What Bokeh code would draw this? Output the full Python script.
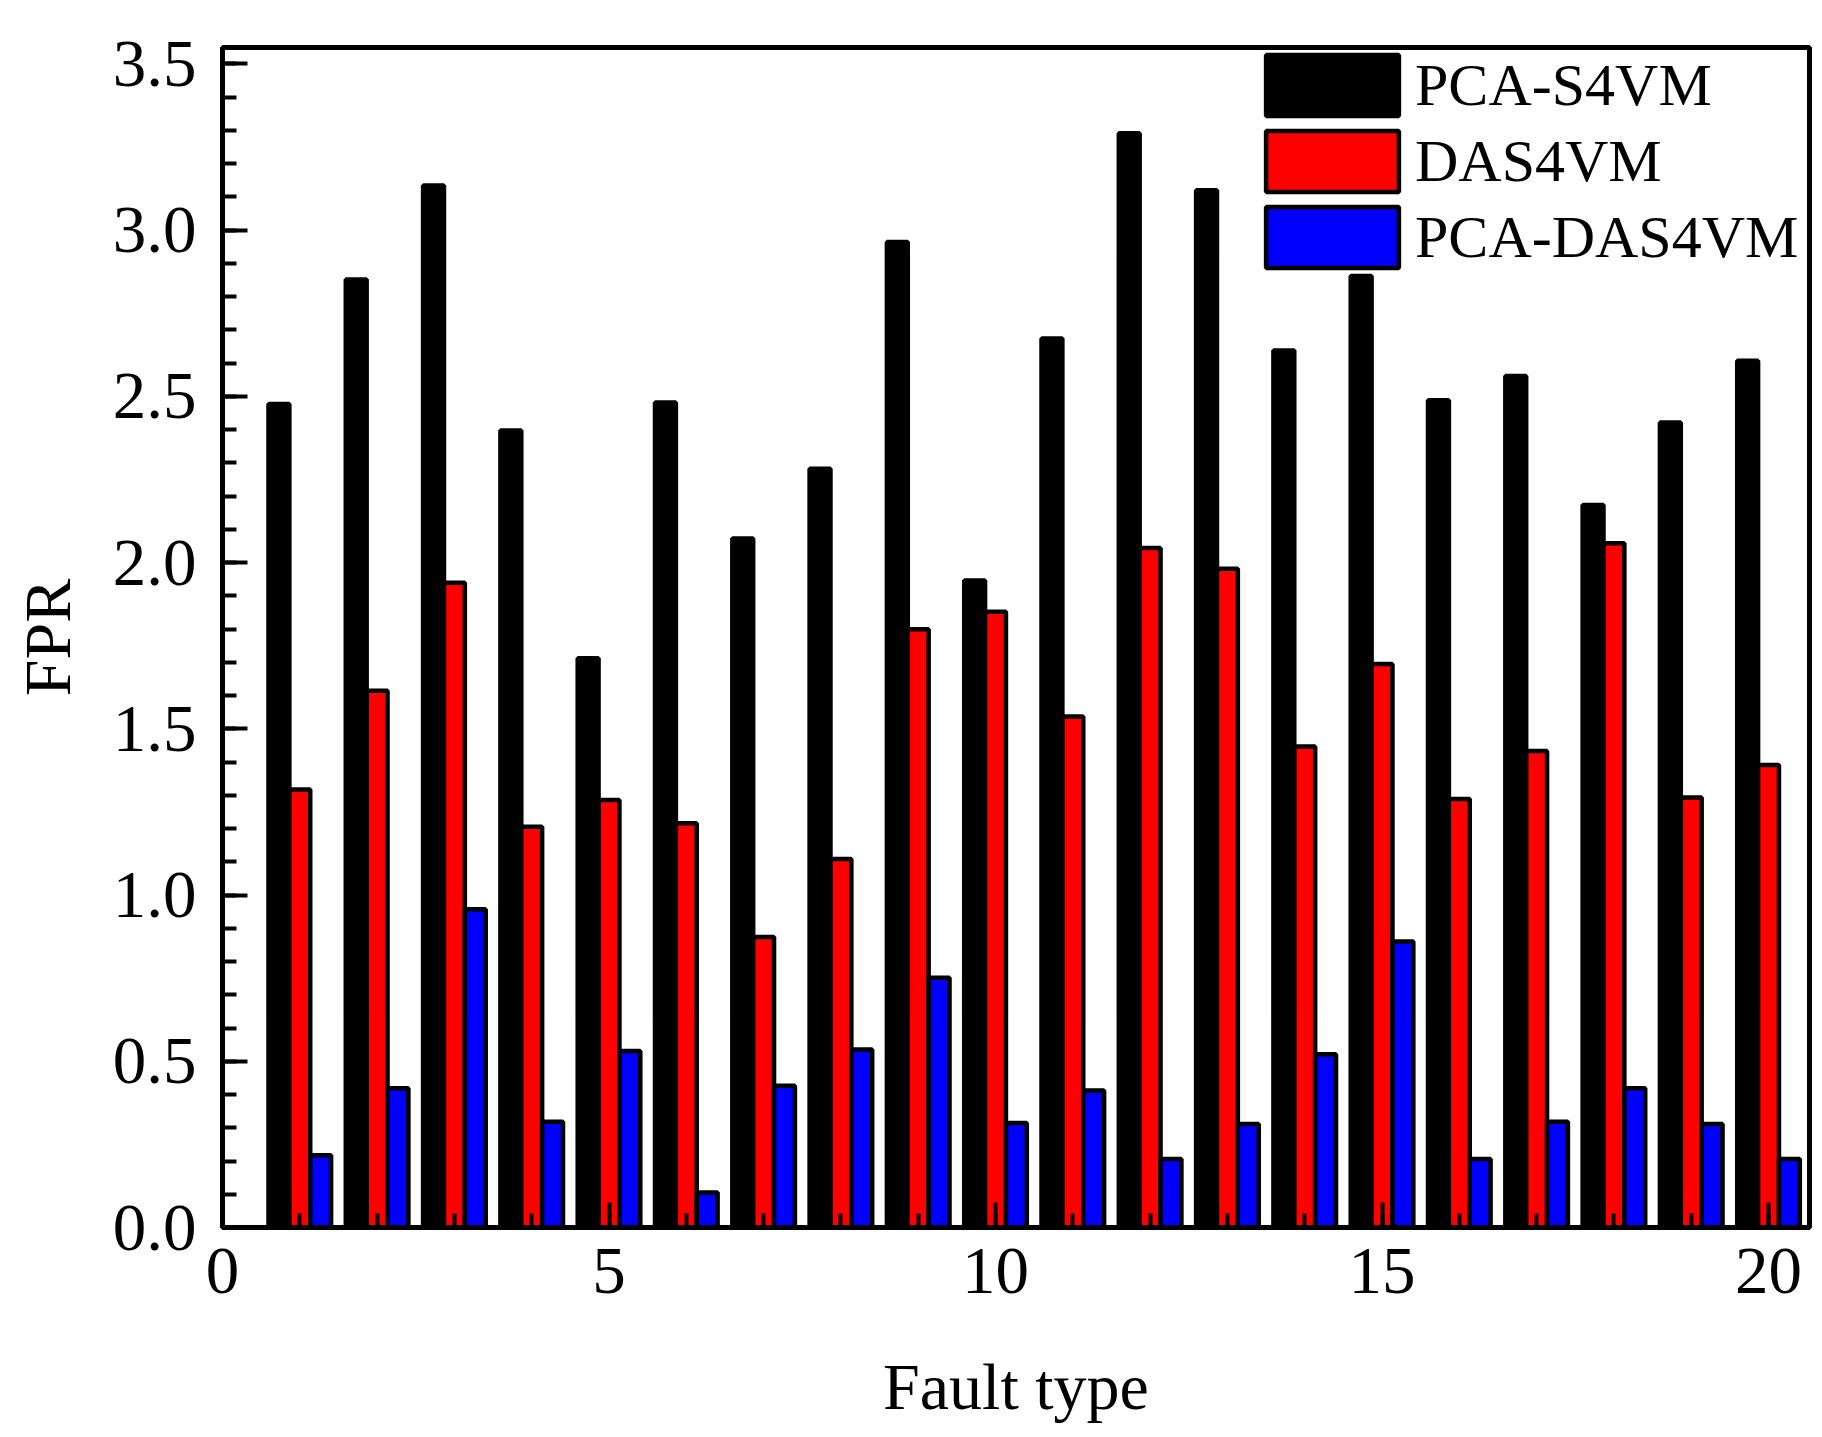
from bokeh.plotting import figure
from bokeh.models import Range1d, ColumnDataSource, Legend, LegendItem, FixedTicker, PrintfTickFormatter
from bokeh.transform import dodge
from bokeh.embed import file_html
from bokeh.resources import INLINE

fault_type = list(range(1, 21))
pca_s4vm = [2.477, 2.851, 3.134, 2.397, 1.712, 2.481, 2.072, 2.282, 2.964, 1.946,
            2.674, 3.291, 3.120, 2.638, 2.862, 2.488, 2.561, 2.173, 2.421, 2.607]
das4vm = [1.317, 1.614, 1.939, 1.205, 1.286, 1.216, 0.874, 1.108, 1.799, 1.852,
          1.537, 2.044, 1.981, 1.447, 1.695, 1.289, 1.433, 2.058, 1.293, 1.391]
pca_das4vm = [0.217, 0.419, 0.957, 0.318, 0.531, 0.105, 0.426, 0.535, 0.751, 0.314,
              0.412, 0.206, 0.311, 0.521, 0.860, 0.206, 0.318, 0.419, 0.311, 0.206]
series_names = ["PCA-S4VM", "DAS4VM", "PCA-DAS4VM"]
series_colors = ["#000000", "#ff0000", "#0000ff"]
x_ticks = [0, 5, 10, 15, 20]
y_ticks = [0.0, 0.5, 1.0, 1.5, 2.0, 2.5, 3.0, 3.5]

FONT = "Liberation Serif"

p = figure(width=1814, height=1429, output_backend="svg", toolbar_location=None,
           x_range=Range1d(0, 20.53), y_range=Range1d(0, 3.549),
           min_border_left=222, min_border_right=5, min_border_top=47, min_border_bottom=202)
p.grid.visible = False
p.outline_line_color = "black"
p.outline_line_width = 5
p.background_fill_color = "white"
p.border_fill_color = "white"

src = ColumnDataSource(dict(x=fault_type, a=pca_s4vm, b=das4vm, c=pca_das4vm))
w = 0.27
offsets = [-0.27, 0.0, 0.27]
renderers = []
for col, off, color in zip(["a", "b", "c"], offsets, series_colors):
    r = p.vbar(x=dodge("x", off), top=col, width=w, bottom=0, source=src,
               fill_color=color, line_color="black", line_width=4.5, level="underlay")
    renderers.append(r)

for ax in (p.xaxis[0], p.yaxis[0]):
    ax.level = "overlay"
    ax.axis_line_width = 5
    ax.axis_line_color = "black"
    ax.major_tick_in = 25
    ax.major_tick_out = 0
    ax.minor_tick_in = 14
    ax.minor_tick_out = 0
    ax.major_tick_line_width = 4
    ax.minor_tick_line_width = 4
    ax.major_label_text_font = FONT
    ax.major_label_text_font_size = "67px"
    ax.major_label_text_color = "black"
    ax.axis_label_text_font = FONT
    ax.axis_label_text_font_size = "66px"
    ax.axis_label_text_font_style = "normal"
    ax.axis_label_text_color = "black"

p.xaxis[0].ticker = FixedTicker(ticks=x_ticks, minor_ticks=list(range(0, 21)))
p.yaxis[0].ticker = FixedTicker(ticks=y_ticks, minor_ticks=[i / 10 for i in range(0, 36)])
p.yaxis[0].formatter = PrintfTickFormatter(format="%.1f")
p.xaxis[0].axis_label = "Fault type"
p.yaxis[0].axis_label = "FPR"
p.yaxis[0].axis_label_text_align = "right"
p.xaxis[0].major_label_standoff = 21
p.xaxis[0].axis_label_standoff = 54
p.yaxis[0].major_label_standoff = 26
p.yaxis[0].axis_label_standoff = 26

legend = Legend(items=[LegendItem(label=n, renderers=[r]) for n, r in zip(series_names, renderers)],
                location=(1027, 952))
legend.glyph_width = 166
legend.glyph_height = 76
legend.label_text_font = FONT
legend.label_text_font_size = "60px"
legend.label_text_color = "black"
legend.label_standoff = 0
legend.spacing = 0
legend.padding = 0
legend.margin = 0
legend.border_line_alpha = 0
legend.background_fill_alpha = 0
p.add_layout(legend)

open("out.html", "w").write(file_html(p, INLINE))
